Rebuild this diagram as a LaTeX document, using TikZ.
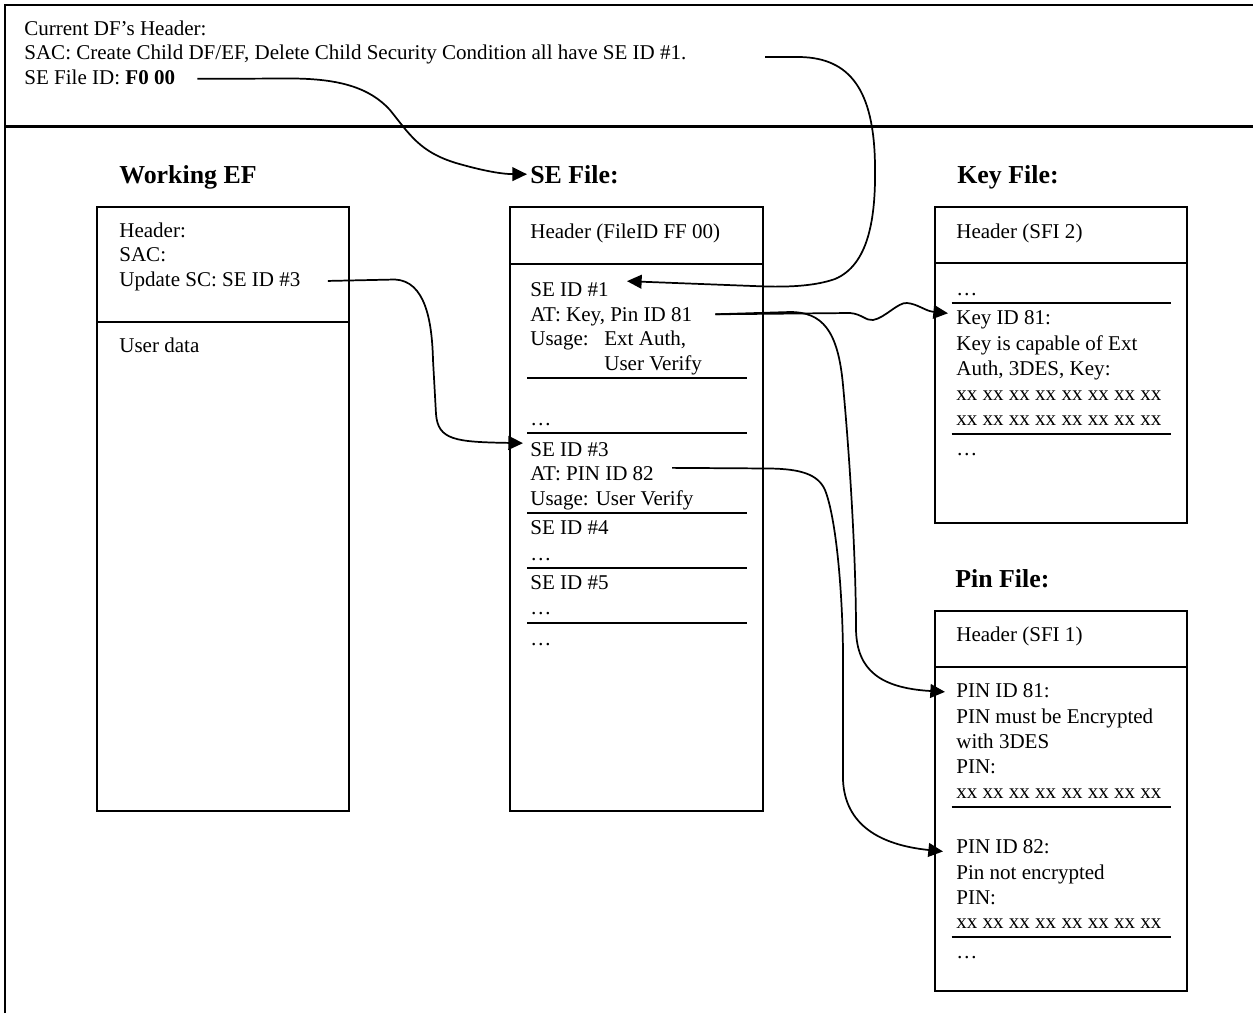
\documentclass[tikz,border=0pt]{standalone}
\usepackage{fontspec}
\setmainfont{Liberation Serif}
\usetikzlibrary{arrows.meta,calc}

\begin{document}
\begin{tikzpicture}[x=0.58pt,y=-0.58pt,>={Triangle[length=8.5pt,width=8pt]},
	txt/.style={anchor=base west,inner sep=0pt,font=\fontsize{12.2}{14}\selectfont},
	ttl/.style={anchor=base west,inner sep=0pt,font=\fontsize{15}{18}\selectfont\bfseries},
	filebox/.style={line width=1pt},
	sep/.style={line width=1.3pt},
	wire/.style={line width=1pt,->}]
	\useasboundingbox (0,0) rectangle (1253,1013);

	% outer table
	\draw[line width=1.2pt] (5,1013) -- (5,5) -- (1253,5);
	\draw[line width=1.4pt] (5,126.5) -- (1253,126.5);

	% current DF header
	\node[txt] (dfhead) at (24,35) {Current DF’s Header:};
	\node[txt] (dfsac) at (24,59.5) {SAC: Create Child DF/EF, Delete Child Security Condition all have SE ID \#1.};
	\node[txt] (dfse) at (24,84) {SE File ID: \textbf{F0 00}};
	\coordinate (sacsrc) at (765,57);

	% titles
	\node[ttl] (wtitle) at (119,183) {Working EF};
	\node[ttl] (setitle) at (530,183) {SE File:};
	\node[ttl] (ktitle) at (957,183) {Key File:};
	\node[ttl] (ptitle) at (955,587) {Pin File:};

	% working EF
	\draw[filebox] (97,207) rectangle (349,811); \draw[sep] (97,322) -- (349,322);
	\node[txt] (whead) at (119,237.3) {Header:};
	\node[txt] (wsac) at (119,261.7) {SAC:};
	\node[txt] (wupd) at (119,286) {Update SC: SE ID \#3};
	\node[txt] (wdata) at (119,352.7) {User data};

	% SE file
	\draw[filebox] (510,207) rectangle (763,811); \draw[sep] (510,264) -- (763,264);
	\node[txt] (sehead) at (530,238) {Header (FileID FF 00)};
	\node[txt] (se1) at (530,296) {SE ID \#1};
	\node[txt] (se1at) at (530,321) {AT: Key, Pin ID 81};
	\node[txt] (se1use) at (530,345.5) {Usage:}; \node[txt] (se1ext) at (604,345.5) {Ext Auth,};
	\node[txt] (se1usr) at (604,370) {User Verify};
	\draw[sep] (527,378.3) -- (747,378.3);
	\node[txt] (sedots1) at (530,425) {…};
	\draw[sep] (527,433) -- (747,433);
	\node[txt] (se3) at (530,456) {SE ID \#3};
	\node[txt] (se3at) at (530,480.7) {AT: PIN ID 82};
	\node[txt] (se3use) at (530,505) {Usage: User Verify};
	\draw[sep] (527,512.7) -- (747,512.7);
	\node[txt] (se4) at (530,534) {SE ID \#4};
	\node[txt] (sedots4) at (530,560) {…};
	\draw[sep] (527,567.7) -- (747,567.7);
	\node[txt] (se5) at (530,589) {SE ID \#5};
	\node[txt] (sedots5) at (530,614) {…};
	\draw[sep] (527,622.7) -- (747,622.7);
	\node[txt] (sedots) at (530,645) {…};

	% key file
	\draw[filebox] (935,207) rectangle (1187,523); \draw[sep] (935,263.3) -- (1187,263.3);
	\node[txt] (khead) at (956,238.3) {Header (SFI 2)};
	\node[txt] (kdots1) at (956,295) {…};
	\draw[sep] (951.7,302.7) -- (1170.7,302.7);
	\node[txt] (k81) at (956,324) {Key ID 81:};
	\node[txt] (k81a) at (956,350) {Key is capable of Ext};
	\node[txt] (k81b) at (956,375) {Auth, 3DES, Key:};
	\node[txt] (k81c) at (956,400) {xx xx xx xx xx xx xx xx};
	\node[txt] (k81d) at (956,425) {xx xx xx xx xx xx xx xx};
	\draw[sep] (951.7,434) -- (1170.7,434);
	\node[txt] (kdots2) at (956,455) {…};

	% pin file
	\draw[filebox] (935,611) rectangle (1187,991); \draw[sep] (935,667.3) -- (1187,667.3);
	\node[txt] (phead) at (956,641.7) {Header (SFI 1)};
	\node[txt] (p81) at (956,697.7) {PIN ID 81:};
	\node[txt] (p81a) at (956,723.3) {PIN must be Encrypted};
	\node[txt] (p81b) at (956,748.3) {with 3DES};
	\node[txt] (p81c) at (956,773.3) {PIN:};
	\node[txt] (p81d) at (956,798.3) {xx xx xx xx xx xx xx xx};
	\draw[sep] (951.7,806.7) -- (1170.7,806.7);
	\node[txt] (p82) at (956,853.3) {PIN ID 82:};
	\node[txt] (p82a) at (956,879) {Pin not encrypted};
	\node[txt] (p82b) at (956,904) {PIN:};
	\node[txt] (p82c) at (956,928.3) {xx xx xx xx xx xx xx xx};
	\draw[sep] (951.7,936.7) -- (1170.7,936.7);
	\node[txt] (pdots) at (956,958) {…};

	% references
	\draw[wire] ([shift={(22,2)}]dfse.east) -- (290,78.5) .. controls (340,78.5) and (370,88) .. (390,110) .. controls (410,135) and (420,152) .. (456,163) .. controls (480,170) and (500,174) .. ([shift={(-3,0)}]setitle.west);
	\draw[wire] (sacsrc) -- (800,57) .. controls (850,58) and (874,90) .. (875,165) .. controls (876,220) and (868,265) .. (835,279) .. controls (815,286) and (790,287) .. (766,286.5) -- ([shift={(18,-8)}]se1.east);
	\draw[wire] ([shift={(27,0)}]wupd.east) -- (395,279.5) .. controls (425,281) and (432,320) .. (433,360) -- (436,414) .. controls (438,440) and (455,442) .. ([shift={(-7,-6)}]se3.west);
	\draw[wire] ([shift={(23,-2)}]se1at.east) -- (850,313) .. controls (862,314) and (866,321) .. (873,320) .. controls (885,318) and (898,302) .. (907,303) .. controls (918,304) and (925,311) .. ([shift={(-8,-6)}]k81.west);
	\draw[wire] ([shift={(23,-2)}]se1at.east) -- (790,312) .. controls (822,312) and (838,330) .. (843,385) .. controls (850,460) and (856,560) .. (856,630) .. controls (857,670) and (880,688) .. ([shift={(-11,1)}]p81.west);
	\draw[wire] ([shift={(18,-6)}]se3at.east) -- (770,468.5) .. controls (800,469) and (818,474) .. (825,490) .. controls (835,515) and (842,580) .. (843,650) -- (843,780) .. controls (845,825) and (880,845) .. ([shift={(-13,5)}]p82.west);
\end{tikzpicture}
\end{document}
